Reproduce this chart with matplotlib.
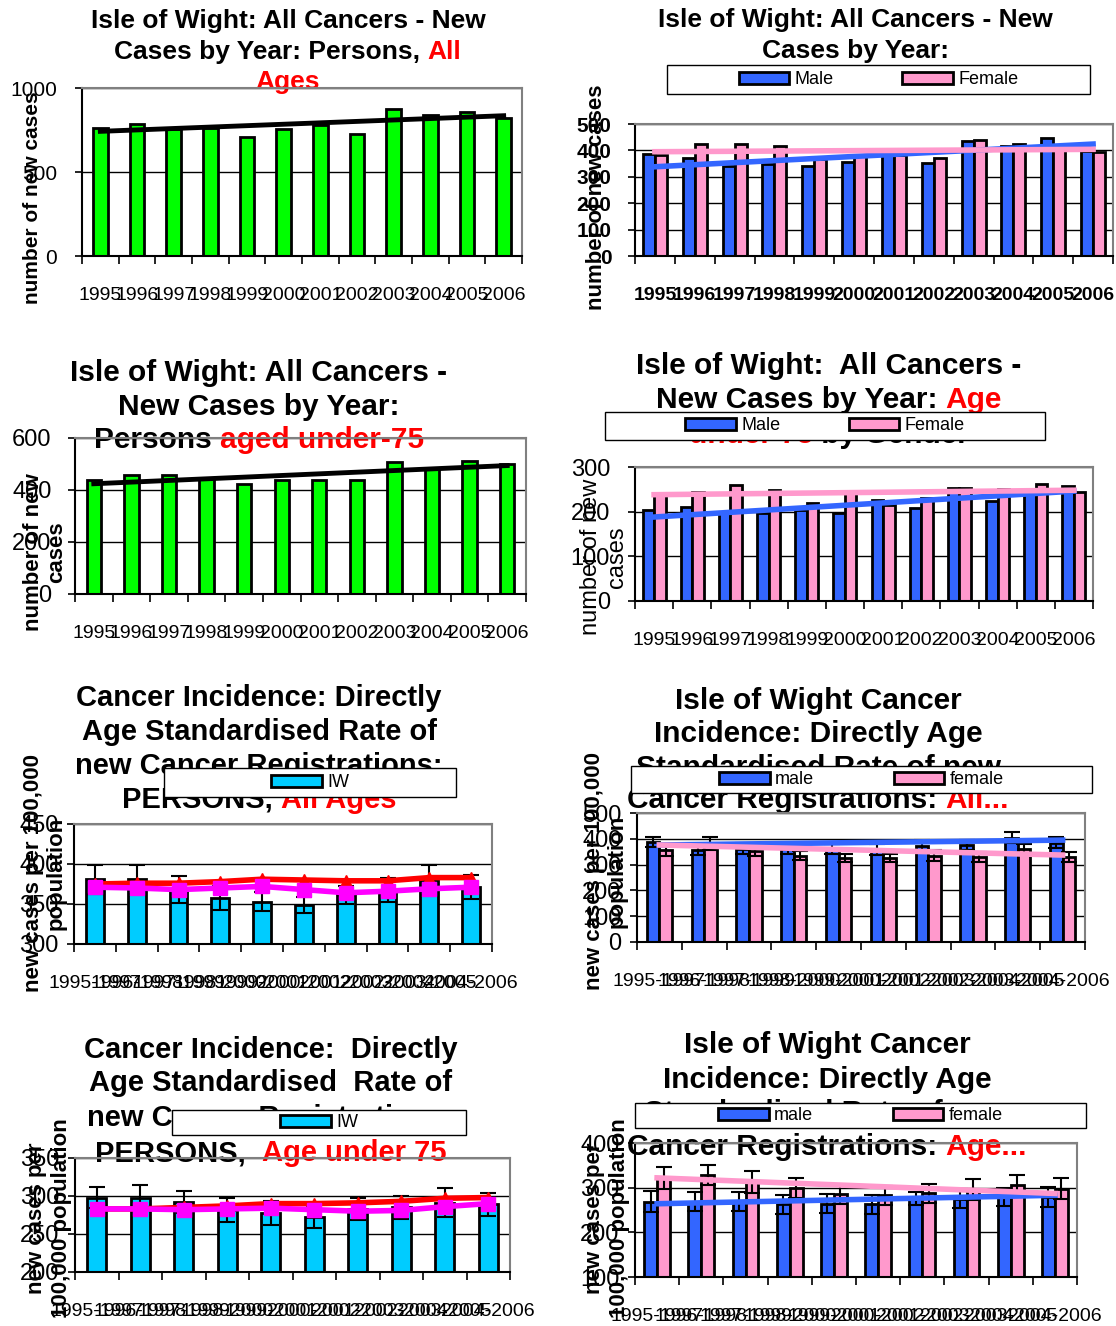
import numpy as np
import matplotlib
matplotlib.use("Agg")
import matplotlib.pyplot as plt
from matplotlib.patches import Patch, Rectangle
from matplotlib.offsetbox import TextArea, HPacker, AnnotationBbox

plt.rcParams['font.family'] = ['Liberation Sans', 'DejaVu Sans']

# ---------------- data ----------------
years = ['1995', '1996', '1997', '1998', '1999', '2000',
         '2001', '2002', '2003', '2004', '2005', '2006']
periods = ['1995-1997', '1996-1998', '1997-1999', '1998-2000', '1999-2001',
           '2000-2002', '2001-2003', '2002-2004', '2003-2005', '2004-2006']

# new cases, all ages
persons_all = [761, 785, 755, 761, 706, 757, 781, 726, 875, 841, 855, 821]
persons_all_trend = [742, 835]
male_all = [386, 371, 342, 347, 342, 357, 389, 351, 434, 418, 446, 399]
female_all = [381, 424, 424, 415, 366, 383, 383, 370, 439, 424, 410, 395]
male_all_trend = [338, 424]
female_all_trend = [395, 404]

# new cases, under 75
persons_u75 = [437, 456, 456, 442, 423, 437, 437, 437, 506, 482, 512, 501]
persons_u75_trend = [424, 494]
male_u75 = [204, 210, 200, 197, 203, 197, 225, 208, 254, 224, 251, 257]
female_u75 = [239, 245, 260, 248, 219, 242, 214, 231, 254, 251, 261, 244]
male_u75_trend = [188, 246]
female_u75_trend = [238, 248]

# directly age standardised rates, all ages
iw_rate_all = [381, 381, 368, 358, 353, 349, 361, 368, 380, 371]
iw_rate_all_err = [18, 18, 17, 15, 12, 10, 11, 15, 19, 15]
red_rate_all = [375, 376, 376, 378, 381, 380, 379, 379, 383, 383]
mag_rate_all = [371, 370, 368, 370, 372, 368, 364, 366, 369, 371]
male_rate_all = [388, 358, 362, 360, 360, 358, 372, 376, 405, 385]
male_rate_all_err = [20, 22, 22, 20, 20, 20, 22, 20, 20, 22]
female_rate_all = [356, 382, 352, 335, 325, 325, 335, 330, 360, 330]
female_rate_all_err = [22, 24, 20, 18, 15, 15, 20, 18, 18, 20]
male_rate_all_trend = [376, 395]
female_rate_all_trend = [376, 337]

# directly age standardised rates, under 75
iw_rate_u75 = [298, 298, 292, 282, 278, 272, 283, 285, 291, 289]
iw_rate_u75_err = [14, 16, 15, 16, 16, 14, 15, 15, 19, 15]
red_rate_u75 = [283, 283, 285, 287, 290, 290, 291, 293, 297, 298]
mag_rate_u75 = [283, 283, 282, 283, 284, 282, 280, 281, 286, 290]
male_rate_u75 = [269, 269, 269, 263, 264, 263, 276, 275, 279, 279]
male_rate_u75_err = [23, 22, 22, 21, 21, 21, 15, 21, 21, 22]
female_rate_u75 = [322, 328, 313, 299, 285, 283, 287, 296, 305, 298]
female_rate_u75_err = [24, 23, 24, 22, 22, 21, 22, 23, 24, 23]
male_rate_u75_trend = [264, 283]
female_rate_u75_trend = [322, 287]

GREEN = '#00FF00'
CYAN = '#00CCFF'
BLUE = '#3366FF'
PINK = '#FF99CC'
RED = '#FF0000'
MAGENTA = '#FF00FF'

W, H = 1116, 1326
fig = plt.figure(figsize=(W / 100, H / 100), dpi=100)


def fr(l, t, r, b):
    return [l / W, 1 - b / H, (r - l) / W, (b - t) / H]


def add_title(lines, cx, ys, size):
    for segs, y in zip(lines, ys):
        if isinstance(segs, str):
            segs = [(segs, 'black')]
        boxes = [TextArea(t, textprops=dict(color=c, fontsize=size,
                                            fontweight='bold'))
                 for t, c in segs]
        hp = HPacker(children=boxes, align='baseline', pad=0, sep=0)
        ab = AnnotationBbox(hp, (cx / W, 1 - y / H), xycoords='figure fraction',
                            box_alignment=(0.5, 0.5), frameon=False, pad=0,
                            annotation_clip=False)
        ab.set_zorder(-1)
        fig.add_artist(ab)


def add_legend(box, handles, labels, fontsize, colsp):
    l, t, r, b = box
    fig.add_artist(Rectangle((l / W, 1 - b / H), (r - l) / W, (b - t) / H,
                             transform=fig.transFigure, facecolor='white',
                             edgecolor='black', lw=1, zorder=4))
    leg = fig.legend(handles, labels, loc='center',
                     bbox_to_anchor=((l + r) / 2 / W, 1 - (t + b) / 2 / H),
                     frameon=False, ncol=len(handles), fontsize=fontsize,
                     handlelength=2.8, handleheight=0.65, handletextpad=0.3,
                     columnspacing=colsp, borderpad=0, borderaxespad=0)
    leg.set_zorder(5)


def patch(color):
    return Patch(facecolor=color, edgecolor='black', linewidth=2)


def setup_axes(box, labels, ylim, yticks, xfs, yfs, weight='normal', ypad=10):
    n = len(labels)
    ax = fig.add_axes(fr(*box))
    ax.set_facecolor('none')
    ax.set_xlim(-0.5, n - 0.5)
    ax.set_ylim(*ylim)
    ax.set_yticks(yticks)
    ax.set_yticklabels([str(v) for v in yticks], fontsize=yfs, fontweight=weight)
    ax.set_xticks(np.arange(n + 1) - 0.5)
    ax.set_xticklabels([])
    ax.set_xticks(np.arange(n), minor=True)
    ax.set_xticklabels(labels, minor=True, fontsize=xfs, fontweight=weight)
    ax.tick_params(axis='x', which='major', length=6, width=1.2, direction='out')
    ax.tick_params(axis='x', which='minor', length=0, pad=22)
    ax.tick_params(axis='y', length=5, width=1.2, direction='out', pad=ypad)
    for s in ['top', 'right']:
        ax.spines[s].set_color('#808080')
    for s in ax.spines.values():
        s.set_linewidth(1.5)
    ax.set_axisbelow(True)
    ax.yaxis.grid(True, color='black', lw=1)
    return ax


def ylabel(text, x, y, size, weight='bold', ls=1.1):
    fig.text(x / W, 1 - y / H, text, rotation=90, ha='center', va='center',
             fontsize=size, fontweight=weight, multialignment='center',
             linespacing=ls)


bar_kw = dict(edgecolor='black', linewidth=2, zorder=2)
err_kw = dict(fmt='none', ecolor='black', elinewidth=1.5, capsize=6,
              capthick=1.5, zorder=3)

# ---- panel 1: persons, all ages ----
ax = setup_axes((82, 88, 522, 256), years, (0, 1000), [0, 500, 1000], 14, 15, ypad=13)
x = np.arange(len(years))
ax.bar(x, persons_all, width=0.4, color=GREEN, **bar_kw)
ax.plot([x[0], x[-1]], persons_all_trend, color='black', lw=3.5, zorder=3)
add_title(["Isle of Wight: All Cancers - New",
           [("Cases by Year: Persons, ", 'black'), ("All", RED)],
           [("Ages", RED)]], 288, [21, 52, 82], 19)
ylabel("number of new cases", 33, 198, 15)

# ---- panel 2: by gender, all ages ----
ax = setup_axes((635, 124, 1113, 256), years, (0, 500), list(range(0, 501, 100)),
                14, 15, weight='bold', ypad=12)
ax.bar(x - 0.15, male_all, width=0.3, color=BLUE, **bar_kw)
ax.bar(x + 0.15, female_all, width=0.3, color=PINK, **bar_kw)
ax.plot([x[0], x[-1]], male_all_trend, color=BLUE, lw=4, zorder=3)
ax.plot([x[0], x[-1]], female_all_trend, color=PINK, lw=4, zorder=3)
add_title(["Isle of Wight: All Cancers - New", "Cases by Year:"], 855, [20, 51], 19)
add_legend((667, 65, 1090, 94), [patch(BLUE), patch(PINK)], ['Male', 'Female'],
           13, 3.8)
ylabel("number of new cases", 596, 197, 16)

# ---- panel 3: persons under 75 ----
ax = setup_axes((75, 438, 526, 594), years, (0, 600), [0, 200, 400, 600], 14, 17, ypad=12)
ax.bar(x, persons_u75, width=0.38, color=GREEN, **bar_kw)
ax.plot([x[0], x[-1]], persons_u75_trend, color='black', lw=3.5, zorder=3)
add_title(["Isle of Wight: All Cancers -", "New Cases by Year:",
           [("Persons ", 'black'), ("aged under-75", RED)]],
          259, [373, 407, 440], 21.5)
ylabel("number of new\ncases", 45, 552, 16)

# ---- panel 4: by gender, under 75 ----
ax = setup_axes((635, 467, 1093, 601), years, (0, 300), [0, 100, 200, 300], 14, 17, ypad=13)
ax.bar(x - 0.15, male_u75, width=0.3, color=BLUE, **bar_kw)
ax.bar(x + 0.15, female_u75, width=0.3, color=PINK, **bar_kw)
ax.plot([x[0], x[-1]], male_u75_trend, color=BLUE, lw=4, zorder=3)
ax.plot([x[0], x[-1]], female_u75_trend, color=PINK, lw=4, zorder=3)
add_title(["Isle of Wight:  All Cancers -",
           [("New Cases by Year: ", 'black'), ("Age", RED)],
           [("under 75", RED), (" by Gender", 'black')]],
          829, [366, 400, 435], 21.5)
add_legend((605, 412, 1045, 440), [patch(BLUE), patch(PINK)], ['Male', 'Female'],
           13, 3.8)
ylabel("number of new\ncases", 604, 557, 17, weight='normal', ls=1.2)

# ---- panel 5: standardised rate, persons all ages ----
xp = np.arange(len(periods))
ax = setup_axes((74, 824, 492, 944), periods, (300, 450), [300, 350, 400, 450], 14, 17, ypad=6)
ax.bar(xp, iw_rate_all, width=0.43, color=CYAN, **bar_kw)
ax.errorbar(xp, iw_rate_all, yerr=iw_rate_all_err, **err_kw)
ax.plot(xp, red_rate_all, color=RED, lw=4, marker='^', ms=8, zorder=4)
ax.plot(xp, mag_rate_all, color=MAGENTA, lw=4, marker='s', ms=10, zorder=5)
add_title(["Cancer Incidence: Directly", "Age Standardised Rate of",
           "new Cancer Registrations:",
           [("PERSONS, ", 'black'), ("All Ages", RED)]],
          259, [698, 732, 766, 800], 21)
add_legend((164, 768, 456, 797), [patch(CYAN)], ['IW'], 13, 3.8)
ylabel("new cases per 100,000\npopulation", 45, 873, 16)

# ---- panel 6: standardised rate by gender, all ages ----
ax = setup_axes((637, 813, 1085, 942), periods, (0, 500), list(range(0, 501, 100)), 14, 17, ypad=6)
ax.bar(xp - 0.14, male_rate_all, width=0.28, color=BLUE, **bar_kw)
ax.bar(xp + 0.14, female_rate_all, width=0.28, color=PINK, **bar_kw)
ax.errorbar(xp - 0.14, male_rate_all, yerr=male_rate_all_err, **err_kw)
ax.errorbar(xp + 0.14, female_rate_all, yerr=female_rate_all_err, **err_kw)
ax.plot([xp[0], xp[-1]], male_rate_all_trend, color=BLUE, lw=4, zorder=4)
ax.plot([xp[0], xp[-1]], female_rate_all_trend, color=PINK, lw=4, zorder=4)
add_title(["Isle of Wight Cancer", "Incidence: Directly Age",
           "Standardised Rate of new",
           [("Cancer Registrations: ", 'black'), ("All...", RED)]],
          818, [701, 734, 768, 800], 21.5)
add_legend((631, 766, 1092, 793), [patch(BLUE), patch(PINK)], ['male', 'female'],
           13, 4.4)
ylabel("new cases per 100,000\npopulation", 606, 871, 16)

# ---- panel 7: standardised rate, persons under 75 ----
ax = setup_axes((75, 1158, 510, 1272), periods, (200, 350), [200, 250, 300, 350], 14, 17, ypad=6)
ax.bar(xp, iw_rate_u75, width=0.43, color=CYAN, **bar_kw)
ax.errorbar(xp, iw_rate_u75, yerr=iw_rate_u75_err, **err_kw)
ax.plot(xp, red_rate_u75, color=RED, lw=4, marker='^', ms=8, zorder=4)
ax.plot(xp, mag_rate_u75, color=MAGENTA, lw=4, marker='s', ms=10, zorder=5)
add_title(["Cancer Incidence:  Directly", "Age Standardised  Rate of",
           "new Cancer Registrations:",
           [("PERSONS,  ", 'black'), ("Age under 75", RED)]],
          271, [1050, 1083, 1118, 1153], 21)
add_legend((172, 1110, 466, 1135), [patch(CYAN)], ['IW'], 13, 3.8)
ylabel("new cases per\n100,000 population", 49, 1218, 16, ls=1.2)

# ---- panel 8: standardised rate by gender, under 75 ----
ax = setup_axes((635, 1143, 1077, 1277), periods, (100, 400), [100, 200, 300, 400], 14, 17, ypad=6)
ax.bar(xp - 0.145, male_rate_u75, width=0.29, color=BLUE, **bar_kw)
ax.bar(xp + 0.145, female_rate_u75, width=0.29, color=PINK, **bar_kw)
ax.errorbar(xp - 0.145, male_rate_u75, yerr=male_rate_u75_err, **err_kw)
ax.errorbar(xp + 0.145, female_rate_u75, yerr=female_rate_u75_err, **err_kw)
ax.plot([xp[0], xp[-1]], male_rate_u75_trend, color=BLUE, lw=4, zorder=4)
ax.plot([xp[0], xp[-1]], female_rate_u75_trend, color=PINK, lw=4, zorder=4)
add_title(["Isle of Wight Cancer", "Incidence: Directly Age",
           "Standardised Rate of new",
           [("Cancer Registrations: ", 'black'), ("Age...", RED)]],
          827, [1045, 1080, 1113, 1147], 21.5)
add_legend((635, 1103, 1086, 1128), [patch(BLUE), patch(PINK)], ['male', 'female'],
           13, 4.4)
ylabel("new cases per\n100,000 population", 607, 1218, 16, ls=1.2)

fig.savefig("out.png", dpi=100)
